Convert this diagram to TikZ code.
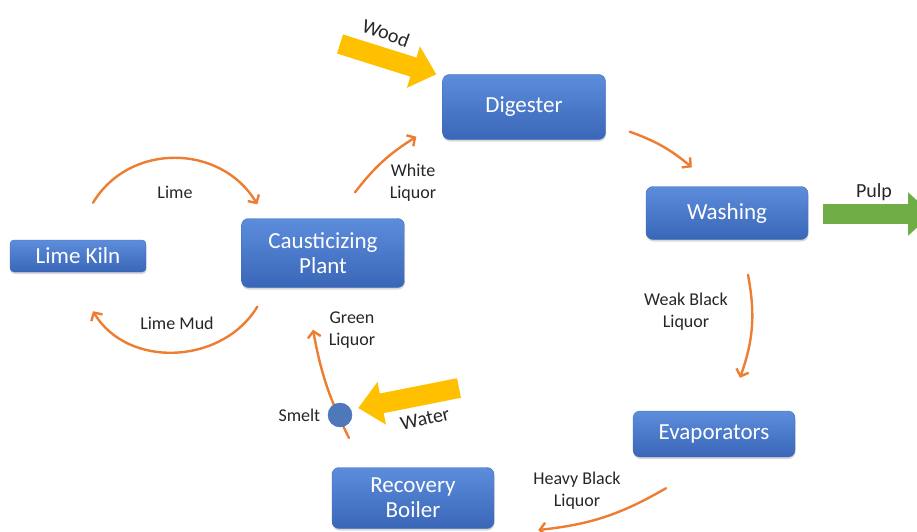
\documentclass[tikz,border=0pt]{standalone}
\usepackage{fontspec}
\setmainfont{Carlito}
\usetikzlibrary{arrows.meta,positioning,calc,shadows}
\definecolor{bxtop}{HTML}{5C8DDB}
\definecolor{bxbot}{HTML}{3A66B8}
\definecolor{bxline}{HTML}{3E6DBF}
\definecolor{orng}{HTML}{ED7D31}
\definecolor{yel}{HTML}{FFC000}
\definecolor{grn}{HTML}{70AD47}
\definecolor{ink}{HTML}{262626}
\tikzset{
  box/.style={rectangle,rounded corners=7pt,top color=bxtop,bottom color=bxbot,draw=bxline,line width=0.4pt,text=white,font=\fontsize{23}{25}\selectfont,align=center,inner sep=0pt,drop shadow={opacity=0.3,shadow xshift=0.5pt,shadow yshift=-2pt}},
  lab/.style={font=\fontsize{18}{22}\selectfont,align=center,text=ink},
  flow/.style={draw=orng,line width=2.4pt,line cap=round,-{Straight Barb[length=6pt,width=13pt]}},
  fat/.style={line width=20pt,-{Triangle[length=24pt,width=42pt]}},
  dot/.style={circle,fill=bxtop!85!black,draw=bxline,minimum size=24pt,inner sep=0pt},
}

\begin{document}
\begin{tikzpicture}[x=1pt,y=-1pt]
\path[use as bounding box] (0,0) rectangle (917,532);
\clip (0,0) rectangle (917,532);
\node[box,minimum width=163pt,minimum height=65pt] (dig) at (524,107) {Digester};
\node[box,minimum width=162pt,minimum height=53pt] (wash) at (727,213) {Washing};
\node[box,minimum width=162pt,minimum height=46pt] (evap) at (714,434) {Evaporators};
\node[box,minimum width=162pt,minimum height=61pt] (rec) at (413,498) {Recovery\\Boiler};
\node[box,minimum width=163pt,minimum height=69pt] (caus) at (323,253) {Causticizing\\Plant};
\node[box,rounded corners=4pt,minimum width=136pt,minimum height=32pt] (kiln) at (78,256) {Lime Kiln};

\draw[flow] ($(dig.south east)+(24,-8)$) to[bend left=10] ($(wash.north west)+(46,-19)$);
\draw[flow] ($(wash.south)+(21,35)$) to[bend left=15] ($(evap.north)+(26,-33)$);
\draw[flow] ($(evap.south)+(-48,31)$) to[bend left=12] ($(rec.east)+(44,32)$);
\draw[flow] ($(caus.north)+(32,-26)$) to[bend left=10] ($(dig.south west)+(-26,-3)$);
\draw[flow] ($(kiln.north)+(15,-37)$) to[out=59,in=121,looseness=1.1] ($(caus.north west)+(16,-14)$);
\draw[flow] ($(caus.south west)+(16,19)$) to[out=239,in=301,looseness=1.05] ($(kiln.south)+(15,39)$);

\coordinate (sm) at (340,415);
\draw[flow] ($(sm)+(9,23)$) to[bend left=8] ($(caus.south)+(-10,42)$);
\node[dot] (smelt) at (sm) {};

\coordinate (woodin) at (340,44);
\coordinate (waterin) at (459,388);
\coordinate (pulpout) at (932,214);
\draw[fat,yel] (woodin) -- ($(dig.north west)+(-6,0)$);
\draw[fat,yel] (waterin) -- ($(smelt.east)+(6,-7)$);
\draw[fat,grn] ($(wash.east)+(15,1)$) -- (pulpout);

\node[lab] at (175,192) {Lime};
\node[lab] at (177,323) {Lime Mud};
\node[lab] at (413,183) {White\\Liquor};
\node[lab] at (352,330) {Green\\Liquor};
\node[lab] at (686,312) {Weak Black\\Liquor};
\node[lab] at (577,491) {Heavy Black\\Liquor};
\node[lab,left=4pt of smelt] {Smelt};
\node[lab,font=\fontsize{20}{24}\selectfont,rotate=13] at (425,419) {Water};
\node[lab,font=\fontsize{20}{24}\selectfont,rotate=-20] at (386,33) {Wood};
\node[lab,font=\fontsize{20}{24}\selectfont] at (874,192) {Pulp};
\end{tikzpicture}
\end{document}
